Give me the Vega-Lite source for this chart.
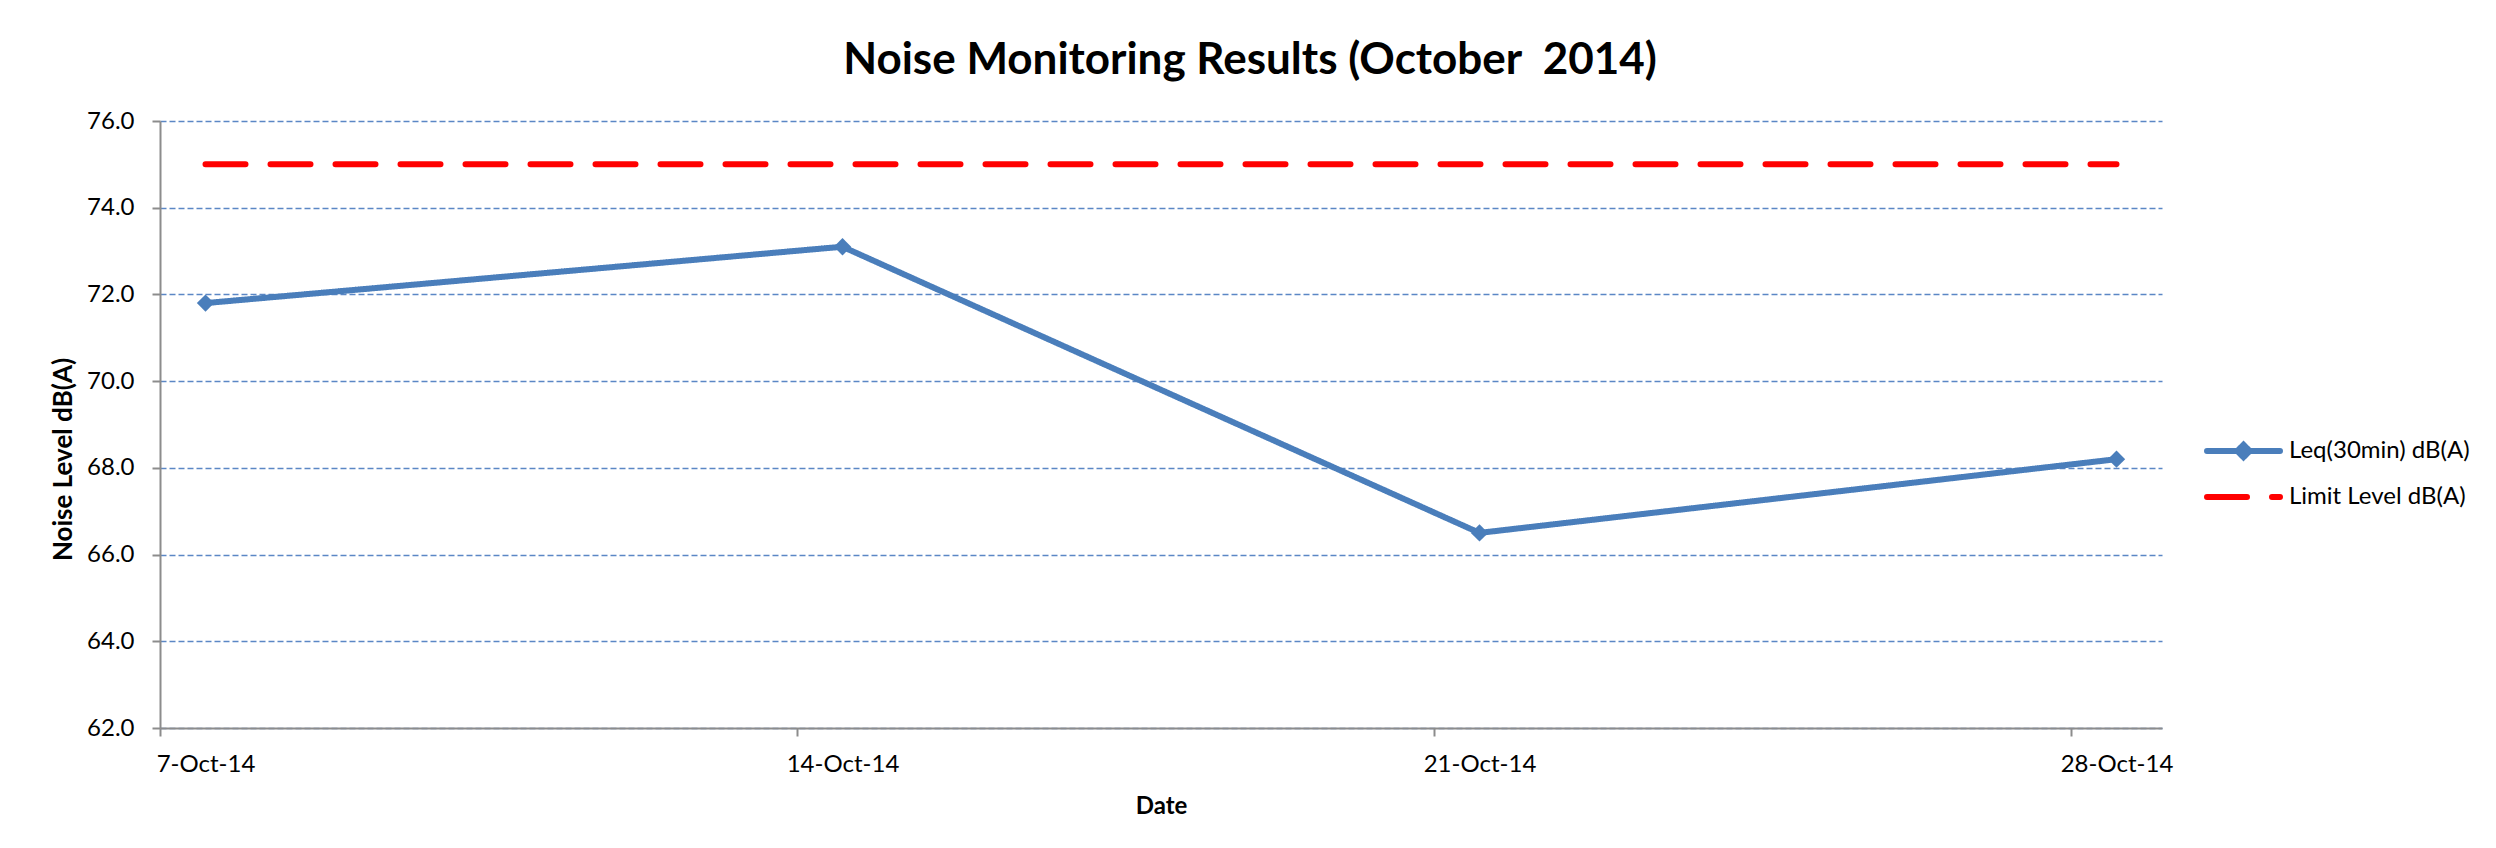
{
  "$schema": "https://vega.github.io/schema/vega-lite/v6.json",
  "autosize": {"type": "none"},
  "width": 2002,
  "height": 607,
  "padding": {"left": 160, "top": 121, "right": 334, "bottom": 120},
  "background": "white",
  "title": {
    "text": "Noise Monitoring Results (October\u00a0 2014)",
    "font": "Lato",
    "fontSize": 44,
    "fontWeight": "bold",
    "color": "black",
    "anchor": "middle",
    "baseline": "alphabetic",
    "offset": 46,
    "dx": 89,
    "dy": 55
  },
  "config": {
    "view": {"stroke": null},
    "axis": {
      "labelFont": "Lato",
      "labelFontSize": 24,
      "labelColor": "black",
      "titleFont": "Lato",
      "titleFontSize": 24,
      "titleFontWeight": "bold",
      "titleColor": "black",
      "domainColor": "#8C8C8C",
      "domainWidth": 2,
      "tickColor": "#8C8C8C",
      "tickWidth": 2,
      "tickSize": 8
    }
  },
  "data": {
    "values": [
      {"date": "2014-10-07", "series": "Leq(30min) dB(A)", "level": 71.8},
      {"date": "2014-10-14", "series": "Leq(30min) dB(A)", "level": 73.1},
      {"date": "2014-10-21", "series": "Leq(30min) dB(A)", "level": 66.5},
      {"date": "2014-10-28", "series": "Leq(30min) dB(A)", "level": 68.2},
      {"date": "2014-10-07", "series": "Limit Level dB(A)", "level": 75},
      {"date": "2014-10-14", "series": "Limit Level dB(A)", "level": 75},
      {"date": "2014-10-21", "series": "Limit Level dB(A)", "level": 75},
      {"date": "2014-10-28", "series": "Limit Level dB(A)", "level": 75}
    ]
  },
  "encoding": {
    "x": {
      "field": "date",
      "type": "temporal",
      "scale": {
        "type": "utc",
        "domain": [
          {"year": 2014, "month": 10, "date": 6, "hours": 12, "utc": true},
          {"year": 2014, "month": 10, "date": 28, "hours": 12, "utc": true}
        ]
      },
      "axis": {
        "title": "Date",
        "format": "%-d-%b-%y",
        "values": [
          {"year": 2014, "month": 10, "date": 7, "utc": true},
          {"year": 2014, "month": 10, "date": 14, "utc": true},
          {"year": 2014, "month": 10, "date": 21, "utc": true},
          {"year": 2014, "month": 10, "date": 28, "utc": true}
        ],
        "tickOffset": -45.5,
        "labelOffset": 45.5,
        "labelPadding": 16,
        "titlePadding": 18,
        "grid": false,
        "zindex": 1,
        "labelFlush": false,
        "labelOverlap": false
      }
    },
    "y": {
      "field": "level",
      "type": "quantitative",
      "scale": {"domain": [62, 76], "nice": false, "zero": false},
      "axis": {
        "title": "Noise Level dB(A)",
        "titleFontSize": 26,
        "titleY": 338,
        "titleAlign": "center",
        "values": [62, 64, 66, 68, 70, 72, 74, 76],
        "format": ".1f",
        "labelPadding": 18,
        "titlePadding": 10,
        "grid": true,
        "gridColor": "#5B87C5",
        "gridDash": [6, 3],
        "gridWidth": 1.4
      }
    }
  },
  "layer": [
    {
      "mark": {"type": "line", "strokeWidth": 6, "strokeCap": "round", "strokeJoin": "round"},
      "encoding": {
        "color": {
          "field": "series",
          "type": "nominal",
          "scale": {"domain": ["Leq(30min) dB(A)", "Limit Level dB(A)"], "range": ["#4A7EBB", "#FF0000"]},
          "legend": {
            "title": null,
            "orient": "none",
            "legendX": 2044,
            "legendY": 315,
            "symbolType": "stroke",
            "symbolSize": 5329,
            "symbolStrokeWidth": 6,
            "clipHeight": 30,
            "rowPadding": 16,
            "labelOffset": 6,
            "labelFont": "Lato",
            "labelFontSize": 24,
            "labelColor": "black",
            "labelLimit": 400,
            "encode": {
              "symbols": {
                "update": {
                  "shape": {"signal": "datum.value === 'Leq(30min) dB(A)' ? 'M -1,0 L 1,0 M -0.17,0 L 0,-0.17 L 0.17,0 L 0,0.17 Z' : 'stroke'"},
                  "fill": {"signal": "datum.value === 'Leq(30min) dB(A)' ? '#4A7EBB' : 'transparent'"},
                  "strokeCap": {"value": "round"}
                }
              }
            }
          }
        },
        "strokeDash": {
          "field": "series",
          "type": "nominal",
          "scale": {"domain": ["Leq(30min) dB(A)", "Limit Level dB(A)"], "range": [[1, 0], [40, 25]]},
          "legend": {
            "title": null,
            "orient": "none",
            "legendX": 2044,
            "legendY": 315,
            "symbolType": "stroke",
            "symbolSize": 5329,
            "symbolStrokeWidth": 6,
            "clipHeight": 30,
            "rowPadding": 16,
            "labelOffset": 6,
            "labelFont": "Lato",
            "labelFontSize": 24,
            "labelColor": "black",
            "labelLimit": 400
          }
        }
      }
    },
    {
      "transform": [{"filter": "datum.series === 'Leq(30min) dB(A)'"}],
      "mark": {"type": "point", "shape": "diamond", "filled": true, "size": 300, "color": "#4A7EBB", "opacity": 1},
      "encoding": {}
    }
  ]
}
